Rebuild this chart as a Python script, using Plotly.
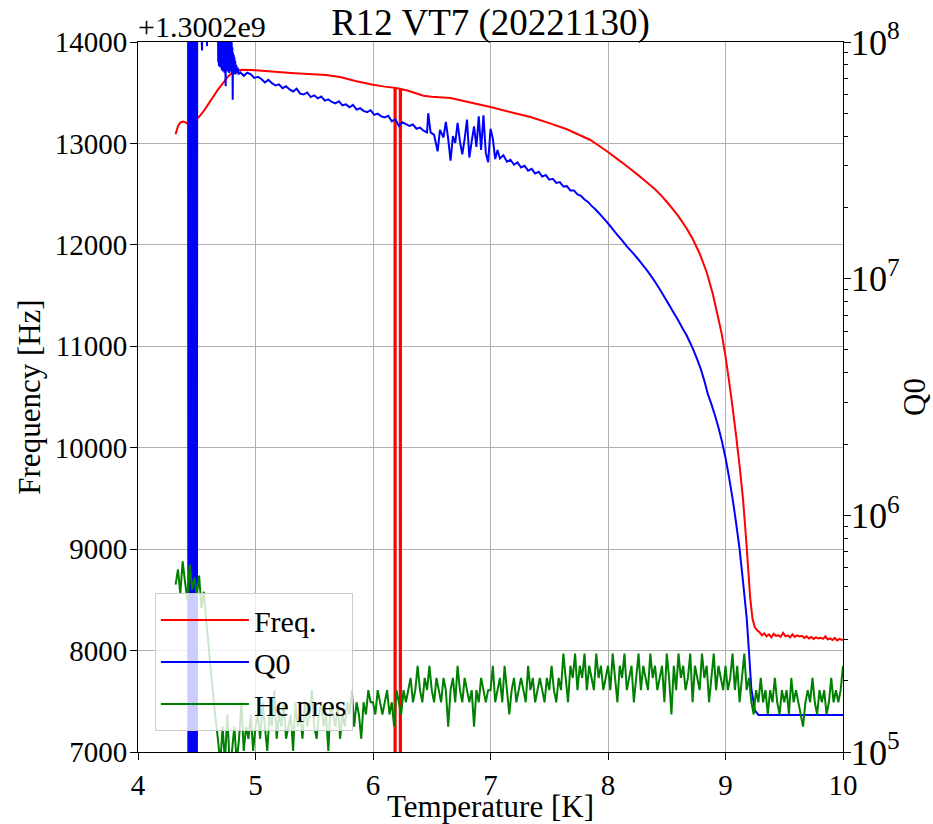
import plotly.graph_objects as go

# ---------------- data ----------------
title_text = "R12 VT7 (20221130)"
freq_offset_label = "+1.3002e9"
x_ticks = [4, 5, 6, 7, 8, 9, 10]
freq_ticks = [7000, 8000, 9000, 10000, 11000, 12000, 13000, 14000]

# Frequency (offset from 1.3002e9 Hz) vs temperature [K]
freq_t = [4.32, 4.34, 4.36, 4.38, 4.40, 4.42, 4.44, 4.47, 4.50, 4.52, 4.56, 4.60, 4.64,
          4.68, 4.72, 4.76, 4.78, 4.80, 4.83, 4.86, 4.90, 5.00, 5.30, 5.60, 5.72, 5.85,
          6.00, 6.10, 6.183, 6.186, 6.190, 6.193, 6.228, 6.231, 6.235, 6.238, 6.30, 6.43,
          6.50, 6.66, 6.80, 7.00, 7.20, 7.34, 7.50, 7.65, 7.85, 7.92, 8.00, 8.07, 8.15,
          8.21, 8.27, 8.33, 8.40, 8.45, 8.50, 8.55, 8.60, 8.67, 8.72, 8.78, 8.84, 8.89,
          8.93, 8.97, 9.00, 9.03, 9.06, 9.09, 9.12, 9.15, 9.18, 9.21, 9.23, 9.25, 9.27, 9.29,
          9.31, 9.33, 9.35, 9.37, 9.39, 9.41, 9.43, 9.45, 9.47, 9.49, 9.51, 9.53, 9.55,
          9.57, 9.59, 9.61, 9.63, 9.65, 9.67, 9.69, 9.71, 9.73, 9.75, 9.77, 9.79, 9.81,
          9.83, 9.85, 9.87, 9.89, 9.91, 9.93, 9.95, 9.97, 9.99, 10.00]
freq_hz = [13090, 13170, 13205, 13215, 13210, 13195, 13205, 13225, 13245, 13262, 13320, 13390, 13460,
           13530, 13590, 13650, 13675, 13695, 13715, 13724, 13726, 13722, 13695, 13675, 13655, 13615,
           13578, 13560, 13548, -500000, -500000, 13546, 13538, -500000, -500000, 13536, 13520, 13470,
           13460, 13448, 13410, 13360, 13300, 13260, 13200, 13140, 13034, 12980, 12915, 12855, 12785,
           12730, 12675, 12618, 12548, 12490, 12425, 12355, 12280, 12160, 12060, 11915, 11730, 11525,
           11320, 11110, 10900, 10660, 10400, 10120, 9820, 9480, 9030, 8520, 8310, 8230, 8200, 8180,
           8150, 8170, 8140, 8160, 8130, 8165, 8145, 8150, 8135, 8175, 8140, 8150, 8130,
           8160, 8135, 8150, 8140, 8145, 8125, 8140, 8120, 8135, 8115, 8130, 8120, 8125,
           8115, 8140, 8110, 8120, 8105, 8125, 8100, 8115, 8105, 8110]

# Q0 vs temperature [K]
q0_t = [4.425, 4.430, 4.435, 4.440, 4.445, 4.450, 4.455, 4.460, 4.465, 4.470, 4.475, 4.480,
        4.485, 4.490, 4.495, 4.500, 4.505, 4.510,
        4.530, 4.545, 4.550, 4.580, 4.587, 4.594, 4.630, 4.660,
        4.680, 4.683, 4.686, 4.689, 4.692, 4.695, 4.698, 4.701, 4.704, 4.707, 4.710, 4.713,
        4.716, 4.719, 4.722, 4.725, 4.728, 4.731, 4.734, 4.737, 4.740, 4.743, 4.746, 4.749,
        4.752, 4.755, 4.758, 4.761, 4.764, 4.767, 4.770, 4.773, 4.776, 4.779, 4.782, 4.785,
        4.788, 4.791, 4.794, 4.797, 4.800, 4.803, 4.806, 4.809, 4.812, 4.815, 4.818, 4.821,
        4.824, 4.827, 4.830, 4.836, 4.842, 4.848, 4.855,
        4.87, 4.90, 4.93, 4.96, 4.99, 5.02, 5.05, 5.08, 5.11, 5.14, 5.17, 5.20, 5.23, 5.26,
        5.29, 5.32, 5.35, 5.38, 5.41, 5.44, 5.47, 5.50, 5.53, 5.56, 5.59, 5.62, 5.65, 5.68,
        5.71, 5.74, 5.77, 5.80, 5.83, 5.86, 5.89, 5.92, 5.95, 5.98, 6.01, 6.04, 6.07, 6.10,
        6.13, 6.16, 6.19, 6.22, 6.25, 6.28, 6.31, 6.34, 6.37, 6.40, 6.43, 6.46, 6.47, 6.49,
        6.52, 6.55, 6.57, 6.60, 6.62, 6.64, 6.66, 6.68, 6.70, 6.72, 6.74, 6.76, 6.78, 6.80,
        6.82, 6.84, 6.86, 6.88, 6.90, 6.92, 6.94, 6.96, 6.98, 7.00, 7.02, 7.04, 7.06, 7.08,
        7.11, 7.14, 7.17, 7.20, 7.23, 7.26, 7.29, 7.32, 7.35, 7.38, 7.41, 7.44, 7.47, 7.50,
        7.53, 7.56, 7.59, 7.62, 7.65, 7.68, 7.71, 7.74, 7.77, 7.80, 7.83, 7.86, 7.89, 7.92,
        7.95, 7.98, 8.01, 8.04, 8.07, 8.10, 8.13, 8.16, 8.19, 8.22, 8.25, 8.28, 8.31, 8.34,
        8.37, 8.40, 8.43, 8.46, 8.49, 8.52, 8.55, 8.58, 8.61, 8.64, 8.67, 8.70, 8.73, 8.76,
        8.79, 8.82, 8.85, 8.88, 8.91, 8.94, 8.97, 9.00, 9.03, 9.06, 9.09, 9.12, 9.15, 9.18,
        9.20, 9.22, 9.25, 9.28, 10.00]
q0_val = [1e10, 1e3, 1e10, 1e3, 1e10, 1e3, 1e10, 1e3, 1e10, 1e3, 1e10, 1e3,
          1e10, 1e3, 1e10, 1e3, 1e10, 1.6e8,
          1.6e8, 9.2e7, 1.6e8, 1.6e8, 9.6e7, 1.6e8, 1.4e8, 1.3e8,
          1.2e8, 8.2e7, 1.3e8, 7.9e7, 1.25e8, 8.4e7, 1.3e8, 7.8e7, 1.2e8, 8.0e7, 1.3e8, 7.6e7,
          1.25e8, 8.2e7, 1.2e8, 7.5e7, 1.15e8, 8.1e7, 1.2e8, 7.4e7, 1.2e8, 7.9e7, 6.5e7, 1.1e8,
          7.7e7, 1.15e8, 7.8e7, 1.2e8, 7.5e7, 1.1e8, 7.7e7, 1.05e8, 7.4e7, 1.1e8, 7.8e7, 1.05e8,
          7.5e7, 1.0e8, 7.6e7, 1.0e8, 7.3e7, 9.5e7, 5.7e7, 9.0e7, 7.5e7, 8.8e7, 7.3e7, 8.6e7,
          7.4e7, 8.3e7, 7.3e7, 8.0e7, 7.4e7, 7.8e7, 7.3e7,
          7.45e7, 7.20e7, 7.42e7, 7.30e7, 7.05e7, 7.12e7, 6.98e7, 6.75e7, 6.92e7, 6.70e7, 6.55e7, 6.62e7, 6.38e7, 6.50e7,
          6.30e7, 6.18e7, 6.35e7, 6.05e7, 6.00e7, 6.12e7, 5.85e7, 5.95e7, 5.78e7, 5.88e7, 5.65e7, 5.72e7, 5.58e7, 5.50e7,
          5.62e7, 5.40e7, 5.45e7, 5.30e7, 5.42e7, 5.18e7, 5.25e7, 5.12e7, 5.05e7, 5.15e7, 4.92e7, 4.98e7, 4.85e7, 4.80e7,
          4.88e7, 4.62e7, 4.72e7, 4.42e7, 4.58e7, 4.50e7, 4.42e7, 4.48e7, 4.30e7, 4.35e7, 4.22e7, 4.15e7, 5.00e7, 4.15e7,
          4.05e7, 3.45e7, 4.25e7, 3.95e7, 4.60e7, 3.90e7, 3.15e7, 4.00e7, 3.75e7, 4.55e7, 3.80e7, 3.35e7, 3.90e7, 4.70e7,
          3.25e7, 3.80e7, 4.40e7, 3.60e7, 4.85e7, 3.50e7, 4.90e7, 3.40e7, 3.10e7, 4.30e7, 3.90e7, 3.20e7, 3.50e7, 3.22e7,
          3.32e7, 3.12e7, 3.18e7, 3.03e7, 3.10e7, 2.95e7, 3.00e7, 2.86e7, 2.91e7, 2.78e7, 2.83e7, 2.70e7, 2.74e7, 2.62e7,
          2.64e7, 2.54e7, 2.56e7, 2.45e7, 2.46e7, 2.36e7, 2.36e7, 2.27e7, 2.24e7, 2.16e7, 2.11e7, 2.03e7, 1.97e7, 1.90e7,
          1.83e7, 1.76e7, 1.69e7, 1.62e7, 1.55e7, 1.49e7, 1.43e7, 1.37e7, 1.32e7, 1.27e7, 1.22e7, 1.17e7, 1.12e7, 1.07e7,
          1.02e7, 9.7e6, 9.2e6, 8.7e6, 8.2e6, 7.75e6, 7.3e6, 6.9e6, 6.5e6, 6.1e6, 5.75e6, 5.35e6, 4.95e6, 4.55e6,
          4.15e6, 3.7e6, 3.25e6, 2.95e6, 2.65e6, 2.35e6, 2.05e6, 1.75e6, 1.45e6, 1.18e6, 9.3e5, 7.2e5, 5.2e5, 3.7e5,
          2.65e5, 1.85e5, 1.50e5, 1.435e5, 1.435e5]

# He pressure trace (plotted against the left scale) vs temperature [K]
he_t = [4.32, 4.34, 4.36, 4.38, 4.40, 4.42, 4.44, 4.46, 4.48, 4.50, 4.52, 4.54, 4.56, 4.58, 4.60, 4.62, 4.64,
        4.66, 4.68, 4.70, 4.72, 4.74, 4.76, 4.78, 4.80, 4.82, 4.84, 4.86, 4.88, 4.90, 4.92, 4.94, 4.96, 4.98,
        5.00, 5.02, 5.04, 5.06, 5.08, 5.10, 5.12, 5.14, 5.16, 5.18, 5.20, 5.22, 5.24, 5.26, 5.28, 5.30, 5.32,
        5.34, 5.36, 5.38, 5.40, 5.42, 5.44, 5.46, 5.48, 5.50, 5.52, 5.54, 5.56, 5.58, 5.60, 5.62, 5.64, 5.66,
        5.68, 5.70, 5.72, 5.74, 5.76, 5.78, 5.80, 5.82, 5.84, 5.86, 5.88, 5.90, 5.92, 5.94, 5.96, 5.98,
        6.00, 6.02, 6.04, 6.06, 6.08, 6.10, 6.12, 6.14, 6.16, 6.18, 6.20, 6.22, 6.24, 6.26, 6.28, 6.30, 6.32,
        6.34, 6.36, 6.38, 6.40, 6.42, 6.44, 6.46, 6.48, 6.50, 6.52, 6.54, 6.56, 6.58, 6.60, 6.62, 6.64, 6.66,
        6.68, 6.70, 6.72, 6.74, 6.76, 6.78, 6.80, 6.82, 6.84, 6.86, 6.88, 6.90, 6.92, 6.94, 6.96, 6.98,
        7.00, 7.02, 7.04, 7.06, 7.08, 7.10, 7.12, 7.14, 7.16, 7.18, 7.20, 7.22, 7.24, 7.26, 7.28, 7.30, 7.32,
        7.34, 7.36, 7.38, 7.40, 7.42, 7.44, 7.46, 7.48, 7.50, 7.52, 7.54, 7.56, 7.58, 7.60, 7.62, 7.64, 7.66,
        7.68, 7.70, 7.72, 7.74, 7.76, 7.78, 7.80, 7.82, 7.84, 7.86, 7.88, 7.90, 7.92, 7.94, 7.96, 7.98,
        8.00, 8.02, 8.04, 8.06, 8.08, 8.10, 8.12, 8.14, 8.16, 8.18, 8.20, 8.22, 8.24, 8.26, 8.28, 8.30, 8.32,
        8.34, 8.36, 8.38, 8.40, 8.42, 8.44, 8.46, 8.48, 8.50, 8.52, 8.54, 8.56, 8.58, 8.60, 8.62, 8.64, 8.66,
        8.68, 8.70, 8.72, 8.74, 8.76, 8.78, 8.80, 8.82, 8.84, 8.86, 8.88, 8.90, 8.92, 8.94, 8.96, 8.98,
        9.00, 9.02, 9.04, 9.06, 9.08, 9.10, 9.12, 9.14, 9.16, 9.18, 9.20, 9.22, 9.24, 9.26, 9.28, 9.30, 9.32,
        9.34, 9.36, 9.38, 9.40, 9.42, 9.44, 9.46, 9.48, 9.50, 9.52, 9.54, 9.56, 9.58, 9.60, 9.62, 9.64, 9.66,
        9.68, 9.70, 9.72, 9.74, 9.76, 9.78, 9.80, 9.82, 9.84, 9.86, 9.88, 9.90, 9.92, 9.94, 9.96, 9.98, 10.00]
he_val = [8650, 8800, 8560, 8880, 8680, 8500, 8850, 8600, 8720, 8540, 8740, 8420, 8580, 8300, 8060, 7800, 7560,
          7330, 7130, 6890, 7250, 6900, 7370, 6880, 7010, 7250, 6900, 7130, 7490, 7010, 7250, 7130, 7370, 7010,
          7250, 7370, 7130, 7490, 7250, 7010, 7370, 7250, 7610, 7130, 7370, 7250, 7490, 7130, 7250, 7370, 7010,
          7490, 7250, 7370, 7130, 7490, 7250, 7370, 7610, 7250, 7130, 7370, 7490, 7250, 7370, 7010, 7490, 7370,
          7250, 7490, 7130, 7370, 7250, 7490, 7370, 7610, 7250, 7490, 7370, 7130, 7490, 7370, 7610, 7490,
          7490, 7370, 7610, 7490, 7370, 7490, 7610, 7370, 7490, 7250, 7610, 7490, 7370, 7610, 7490, 7610, 7730,
          7490, 7610, 7850, 7610, 7490, 7730, 7610, 7850, 7610, 7490, 7730, 7610, 7490, 7730, 7610, 7250, 7610,
          7730, 7490, 7850, 7610, 7490, 7730, 7610, 7490, 7610, 7250, 7610, 7490, 7730, 7610, 7490, 7610,
          7610, 7850, 7490, 7610, 7730, 7490, 7850, 7610, 7370, 7610, 7730, 7490, 7610, 7730, 7610, 7490, 7850,
          7610, 7730, 7490, 7610, 7730, 7610, 7490, 7730, 7610, 7850, 7610, 7490, 7730, 7610, 7970, 7730, 7490,
          7850, 7730, 7970, 7610, 7850, 7730, 7970, 7610, 7850, 7730, 7610, 7970, 7730, 7850, 7610, 7730,
          7850, 7610, 7970, 7730, 7490, 7850, 7730, 7970, 7610, 7730, 7850, 7490, 7730, 7970, 7610, 7850, 7730,
          7610, 7970, 7730, 7850, 7610, 7730, 7850, 7490, 7970, 7730, 7370, 7850, 7610, 7970, 7730, 7850, 7610,
          7730, 7970, 7490, 7850, 7730, 7610, 7970, 7730, 7850, 7490, 7730, 7970, 7610, 7850, 7730, 7610,
          7850, 7610, 7730, 7970, 7610, 7850, 7490, 7730, 7970, 7610, 7730, 7490, 7370, 7610, 7490, 7730, 7490,
          7610, 7370, 7610, 7490, 7730, 7490, 7370, 7610, 7490, 7610, 7370, 7730, 7490, 7610, 7490, 7370, 7250,
          7490, 7610, 7490, 7730, 7490, 7370, 7610, 7490, 7610, 7370, 7490, 7730, 7490, 7610, 7490, 7610, 7850]

# ---------------- figure ----------------
FONT = "Liberation Serif"
TICK_SIZE = 29
LABEL_SIZE = 31
fig = go.Figure()
fig.add_trace(go.Scatter(x=freq_t, y=freq_hz, mode="lines", name="Freq.",
                         line=dict(color="red", width=2, simplify=False), yaxis="y"))
fig.add_trace(go.Scatter(x=q0_t, y=q0_val, mode="lines", name="Q0",
                         line=dict(color="blue", width=2, simplify=False), yaxis="y2"))
fig.add_trace(go.Scatter(x=he_t, y=he_val, mode="lines", name="He pres",
                         line=dict(color="green", width=2, simplify=False), yaxis="y3"))

axis_common = dict(showline=True, linecolor="black", linewidth=1, ticks="outside",
                   ticklen=7, tickcolor="black", zeroline=False, automargin=False,
                   tickfont=dict(family=FONT, size=TICK_SIZE, color="black"))

fig.update_layout(
    width=933, height=824,
    margin=dict(l=138, r=90, t=42, b=72, autoexpand=False),
    paper_bgcolor="white", plot_bgcolor="white",
    font=dict(family=FONT, size=TICK_SIZE, color="black"),
    title=dict(text=title_text, x=0.5, xref="paper", xanchor="center",
               y=1 - 22 / 824, yref="container", yanchor="middle",
               font=dict(family=FONT, size=37, color="black")),
    xaxis=dict(range=[4, 10], tickvals=x_ticks, showgrid=True, gridcolor="#b0b0b0",
               gridwidth=1, mirror=True,
               title=dict(text="Temperature [K]", standoff=4,
                          font=dict(family=FONT, size=LABEL_SIZE, color="black")),
               **axis_common),
    yaxis=dict(range=[7000, 14000], tickvals=freq_ticks, tickformat="d", showgrid=True,
               gridcolor="#b0b0b0", gridwidth=1, ticklabelstandoff=-3,
               title=dict(text="Frequency [Hz]", standoff=4,
                          font=dict(family=FONT, size=LABEL_SIZE, color="black")),
               **axis_common),
    yaxis2=dict(type="log", range=[5, 8], overlaying="y", side="right", dtick=1,
                exponentformat="power", showgrid=False, ticklabelstandoff=-6,
                minor=dict(ticks="outside", ticklen=4, tickcolor="black", dtick="D1", showgrid=False),
                title=dict(text="Q0", standoff=4,
                           font=dict(family=FONT, size=LABEL_SIZE, color="black")),
                **axis_common),
    yaxis3=dict(range=[7000, 14000], overlaying="y", visible=False),
    legend=dict(x=0.024, y=0.224, xanchor="left", yanchor="top", itemwidth=88,
                bgcolor="rgba(255,255,255,0.8)", bordercolor="#cccccc", borderwidth=1,
                font=dict(family=FONT, size=30, color="black"), tracegroupgap=0),
    showlegend=True,
    annotations=[dict(text=freq_offset_label, xref="paper", yref="paper", x=0, y=1,
                      xanchor="left", yanchor="bottom", showarrow=False, xshift=-2, yshift=-3,
                      font=dict(family=FONT, size=30, color="black"))],
)

fig.write_html("out.html")
